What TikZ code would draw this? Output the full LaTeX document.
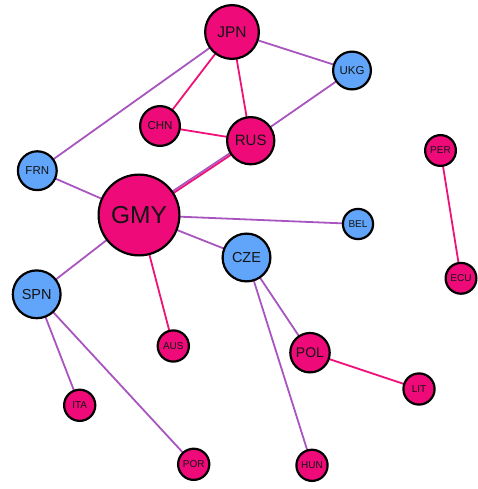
\documentclass[tikz,border=0pt]{standalone}
\usepackage{fontspec}
\setmainfont{Liberation Sans}
\usetikzlibrary{backgrounds}
\definecolor{npink}{HTML}{EE0A78}
\definecolor{nblue}{HTML}{60A5FA}
\definecolor{epink}{HTML}{EE1177}
\definecolor{epurp}{HTML}{A855C0}
\definecolor{txt}{HTML}{141414}
\tikzset{
  cnode/.style={circle, draw=black, line width=2.2pt, inner sep=0pt, text=txt},
  pk/.style={cnode, fill=npink},
  bl/.style={cnode, fill=nblue},
  sz/.style={minimum size=#1*2pt-2.2pt},
  ep/.style={draw=epink, line width=1.8pt},
  eu/.style={draw=epurp, line width=1.8pt},
}
\begin{document}
\begin{tikzpicture}[x=1pt,y=-1pt]
\useasboundingbox (0,0) rectangle (477,489);
\node[pk, sz=28, font=\fontsize{15.5}{16}\selectfont] (jpn) at (232,32) {JPN};
\node[bl, sz=20, font=\fontsize{11.5}{12}\selectfont] (ukg) at (352,70.5) {UKG};
\node[pk, sz=21, font=\fontsize{11.5}{12}\selectfont] (chn) at (160,126) {CHN};
\node[pk, sz=24.7, font=\fontsize{15}{16}\selectfont] (rus) at (250.7,140.7) {RUS};
\node[bl, sz=20.5, font=\fontsize{11.5}{12}\selectfont] (frn) at (37.3,170.7) {FRN};
\node[pk, sz=16.5, font=\fontsize{10}{11}\selectfont] (per) at (440.5,150.5) {PER};
\node[pk, sz=41.5, font=\fontsize{24.5}{26}\selectfont] (gmy) at (139,215) {GMY};
\node[bl, sz=16.2, font=\fontsize{10}{11}\selectfont] (bel) at (358,224) {BEL};
\node[bl, sz=25, font=\fontsize{14.5}{16}\selectfont] (cze) at (246.5,257.5) {CZE};
\node[bl, sz=25, font=\fontsize{14.5}{16}\selectfont] (spn) at (36.7,294.3) {SPN};
\node[pk, sz=16.5, font=\fontsize{10}{11}\selectfont] (ecu) at (461,278.3) {ECU};
\node[pk, sz=16.7, font=\fontsize{10}{11}\selectfont] (aus) at (173.3,346) {AUS};
\node[pk, sz=20.8, font=\fontsize{14}{15}\selectfont] (pol) at (310,352.7) {POL};
\node[pk, sz=16.7, font=\fontsize{10}{11}\selectfont] (lit) at (419,389) {LIT};
\node[pk, sz=16.7, font=\fontsize{10}{11}\selectfont] (ita) at (79.7,405.3) {ITA};
\node[pk, sz=16.7, font=\fontsize{10}{11}\selectfont] (por) at (193.7,464.3) {POR};
\node[pk, sz=16.7, font=\fontsize{10}{11}\selectfont] (hun) at (312,465.3) {HUN};
\begin{scope}[on background layer]
\draw[eu] (jpn.center) -- (ukg.center);
\draw[eu] (jpn.center) -- (frn.center);
\draw[ep] (jpn.center) -- (chn.center);
\draw[ep] (jpn.center) -- (rus.center);
\draw[ep] (chn.center) -- (rus.center);
\draw[eu] (rus.center) -- (ukg.center);
\draw[eu, transform canvas={shift={(-0.8pt,0.8pt)}}] (rus.center) -- (gmy.center);
\draw[ep, transform canvas={shift={(0.6pt,-0.6pt)}}] (rus.center) -- (gmy.center);
\draw[eu] (frn.center) -- (gmy.center);
\draw[eu] (gmy.center) -- (bel.center);
\draw[eu] (gmy.center) -- (cze.center);
\draw[eu] (gmy.center) -- (spn.center);
\draw[ep] (gmy.center) -- (aus.center);
\draw[eu] (cze.center) -- (pol.center);
\draw[eu] (cze.center) -- (hun.center);
\draw[ep] (pol.center) -- (lit.center);
\draw[eu] (spn.center) -- (ita.center);
\draw[eu] (spn.center) -- (por.center);
\draw[ep] (per.center) -- (ecu.center);
\end{scope}
\end{tikzpicture}
\end{document}
